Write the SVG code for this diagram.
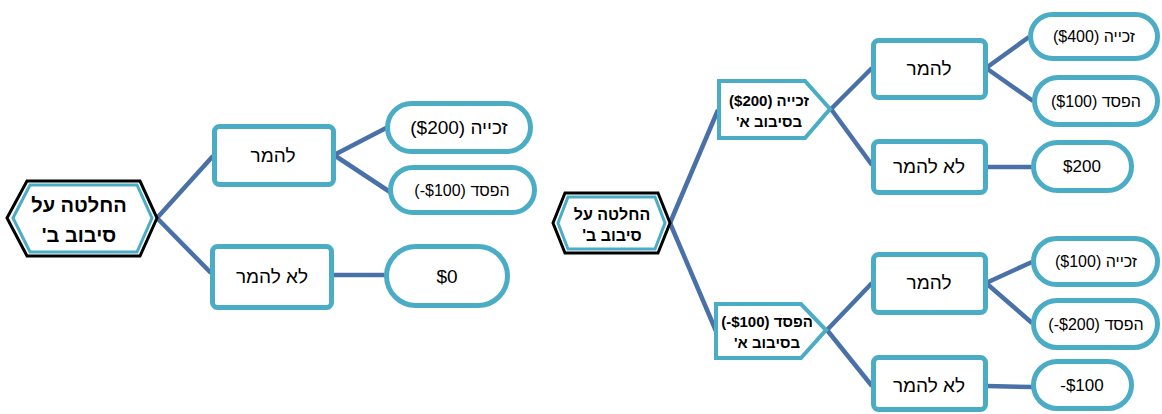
<svg xmlns="http://www.w3.org/2000/svg" width="1162" height="414" viewBox="0 0 1162 414">
<style>
.box{fill:#fff;stroke:#4bacc6;stroke-width:5}
.pent{fill:#fff;stroke:#4bacc6;stroke-width:4;stroke-linejoin:miter}
.hexo{fill:#fff;stroke:#000;stroke-width:3}
.hexi{fill:none;stroke:#4bacc6;stroke-width:3}
.c line{stroke:#4a70a8;stroke-width:4.5;stroke-linecap:butt}
text{font-family:"Liberation Sans",Arial,sans-serif;fill:#000;text-anchor:middle}
.b{font-weight:bold}
.rtl{direction:rtl;unicode-bidi:embed}
</style>
<g id="connectors" class="c">
<line x1="157" y1="218" x2="213" y2="156"/>
<line x1="157" y1="218" x2="211" y2="273"/>
<line x1="334" y1="155" x2="388" y2="127"/>
<line x1="334" y1="155" x2="390" y2="192"/>
<line x1="333" y1="275" x2="385" y2="275"/>
<line x1="670" y1="223" x2="718" y2="110"/>
<line x1="670" y1="223" x2="716" y2="331"/>
<line x1="831" y1="109" x2="872" y2="68"/>
<line x1="831" y1="109" x2="872" y2="165"/>
<line x1="986" y1="68" x2="1029" y2="37"/>
<line x1="986" y1="68" x2="1033" y2="101"/>
<line x1="986" y1="167" x2="1032" y2="167"/>
<line x1="827" y1="330" x2="872" y2="283"/>
<line x1="827" y1="330" x2="872" y2="386"/>
<line x1="986" y1="283" x2="1032" y2="262"/>
<line x1="986" y1="283" x2="1032" y2="323"/>
<line x1="986" y1="386" x2="1032" y2="387"/>
</g>
<g id="hexL">
<polygon class="hexo" points="7,218 27,181 140,181 157,218 140,256 27,256"/>
<polygon class="hexi" points="13,218 30,185 137,185 152,218 137,252 30,252"/>
<text class="b rtl" x="79" y="212" font-size="20">החלטה על</text>
<text class="b rtl" x="79" y="242" font-size="20">סיבוב ב'</text>
</g>
<g id="betL">
<rect class="box" x="214.5" y="126.5" width="119" height="58" rx="5"/>
<text class="rtl" x="273" y="162" font-size="19">להמר</text>
</g>
<g id="nobetL">
<rect class="box" x="212.5" y="246.5" width="119" height="61" rx="5"/>
<text class="rtl" x="272" y="283" font-size="19">לא להמר</text>
</g>
<g id="winL">
<rect class="box" x="387.5" y="103.5" width="143" height="48" rx="24"/>
<text x="459" y="134" font-size="19">($200) זכייה</text>
</g>
<g id="loseL">
<rect class="box" x="390.5" y="167.5" width="144" height="45" rx="22.5"/>
<text x="462" y="196" font-size="16">(-$100) הפסד</text>
</g>
<g id="zeroL">
<rect class="box" x="386.5" y="246.5" width="121" height="59" rx="29.5"/>
<text x="447" y="283" font-size="19">$0</text>
</g>
<g id="hexR">
<polygon class="hexo" points="553,223 565,193 658,193 670,223 658,253 565,253"/>
<polygon class="hexi" points="558,223 568,197 655,197 665,223 655,249 568,249"/>
<text class="b rtl" x="612" y="220" font-size="16">החלטה על</text>
<text class="b rtl" x="612" y="241" font-size="16">סיבוב ב'</text>
</g>
<g id="winA">
<polygon class="pent" points="719,81 805,81 830,109 805,138 719,138"/>
<text class="b" x="769" y="106" font-size="15">($200) זכייה</text>
<text class="b rtl" x="769" y="127" font-size="15">בסיבוב א'</text>
</g>
<g id="loseA">
<polygon class="pent" points="716,304 801,304 826,330 801,358 716,358"/>
<text class="b" x="767" y="327" font-size="15">(-$100) הפסד</text>
<text class="b rtl" x="767" y="348" font-size="15">בסיבוב א'</text>
</g>
<g id="betW">
<rect class="box" x="873.5" y="40.5" width="112" height="57" rx="5"/>
<text class="rtl" x="929" y="75" font-size="19">להמר</text>
</g>
<g id="nobetW">
<rect class="box" x="873.5" y="141.5" width="112" height="51" rx="5"/>
<text class="rtl" x="929" y="173" font-size="19">לא להמר</text>
</g>
<g id="win400">
<rect class="box" x="1030.5" y="14.5" width="127" height="44" rx="22"/>
<text x="1094" y="42" font-size="16">($400) זכייה</text>
</g>
<g id="lose100">
<rect class="box" x="1034.5" y="77.5" width="123" height="47" rx="23.5"/>
<text x="1096" y="107" font-size="16">($100) הפסד</text>
</g>
<g id="keep200">
<rect class="box" x="1033.5" y="142.5" width="98" height="48" rx="24"/>
<text x="1082" y="172" font-size="17">$200</text>
</g>
<g id="betL2">
<rect class="box" x="873.5" y="254.5" width="112" height="58" rx="5"/>
<text class="rtl" x="929" y="289" font-size="19">להמר</text>
</g>
<g id="nobetL2">
<rect class="box" x="873.5" y="357.5" width="112" height="52" rx="5"/>
<text class="rtl" x="929" y="392" font-size="19">לא להמר</text>
</g>
<g id="win100">
<rect class="box" x="1033.5" y="238.5" width="124" height="46" rx="23"/>
<text x="1096" y="267" font-size="16">($100) זכייה</text>
</g>
<g id="lose200">
<rect class="box" x="1033.5" y="300.5" width="124" height="47" rx="23.5"/>
<text x="1096" y="330" font-size="16">(-$200) הפסד</text>
</g>
<g id="keep100">
<rect class="box" x="1033.5" y="361.5" width="98" height="47" rx="23.5"/>
<text x="1082" y="391" font-size="17">-$100</text>
</g>
</svg>
